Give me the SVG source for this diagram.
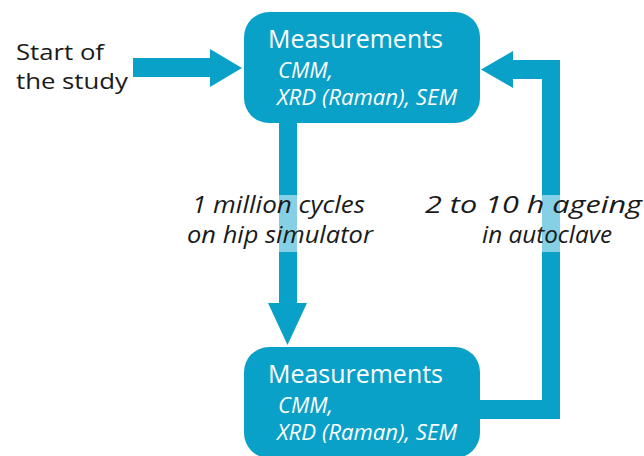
<svg xmlns="http://www.w3.org/2000/svg" width="644" height="456" viewBox="0 0 644 456">
<style>
.blue{fill:#0aa1c9}
.title{font-family:"Open Sans","Noto Sans",sans-serif;font-size:25px;fill:#ffffff}
.sub{font-family:"Open Sans","Noto Sans",sans-serif;font-size:21px;font-style:italic;fill:#ffffff}
.start{font-family:"Open Sans","Noto Sans",sans-serif;font-size:22.5px;fill:#1a1a1a}
.lbl{font-family:"Open Sans","Noto Sans",sans-serif;font-size:24px;font-style:italic;fill:#1a1a1a}
.band{fill:#ffffff;opacity:0.5}
</style>
<rect width="644" height="456" fill="#ffffff"/>
<g id="connectors">
<polygon class="blue" points="133,58 210,58 210,49 242,68 210,87 210,77 133,77"/>
<polygon class="blue" points="279,115 297,115 297,303 307,303 287.5,345 268,303 279,303"/>
<polygon class="blue" points="470,400 542,400 542,79 513,79 513,88 481,69.5 513,51 513,60 560,60 560,419 470,419"/>
</g>
<g id="start">
<text class="start" x="16" y="60" textLength="88" lengthAdjust="spacingAndGlyphs">Start of</text>
<text class="start" x="16" y="89" textLength="112" lengthAdjust="spacingAndGlyphs">the study</text>
</g>
<g id="measurements-top">
<rect class="blue" x="244" y="12" width="236" height="111" rx="25" ry="25"/>
<text class="title" x="268" y="48" textLength="175" lengthAdjust="spacingAndGlyphs">Measurements</text>
<text class="sub" x="278" y="78" textLength="55" lengthAdjust="spacingAndGlyphs">CMM,</text>
<text class="sub" x="277" y="105" textLength="180" lengthAdjust="spacingAndGlyphs">XRD (Raman), SEM</text>
</g>
<g id="measurements-bottom">
<rect class="blue" x="244" y="347" width="236" height="111" rx="25" ry="25"/>
<text class="title" x="268" y="383" textLength="175" lengthAdjust="spacingAndGlyphs">Measurements</text>
<text class="sub" x="278" y="413" textLength="55" lengthAdjust="spacingAndGlyphs">CMM,</text>
<text class="sub" x="277" y="440" textLength="180" lengthAdjust="spacingAndGlyphs">XRD (Raman), SEM</text>
</g>
<g id="label-simulator">
<rect class="band" x="186" y="195" width="190" height="57"/>
<text class="lbl" x="192" y="213" textLength="173" lengthAdjust="spacingAndGlyphs">1 million cycles</text>
<text class="lbl" x="187" y="243" textLength="186" lengthAdjust="spacingAndGlyphs">on hip simulator</text>
</g>
<g id="label-autoclave">
<rect class="band" x="424" y="195" width="219" height="57"/>
<text class="lbl" x="425" y="213" textLength="217" lengthAdjust="spacingAndGlyphs">2 to 10 h ageing</text>
<text class="lbl" x="482" y="243" textLength="130" lengthAdjust="spacingAndGlyphs">in autoclave</text>
</g>
</svg>
